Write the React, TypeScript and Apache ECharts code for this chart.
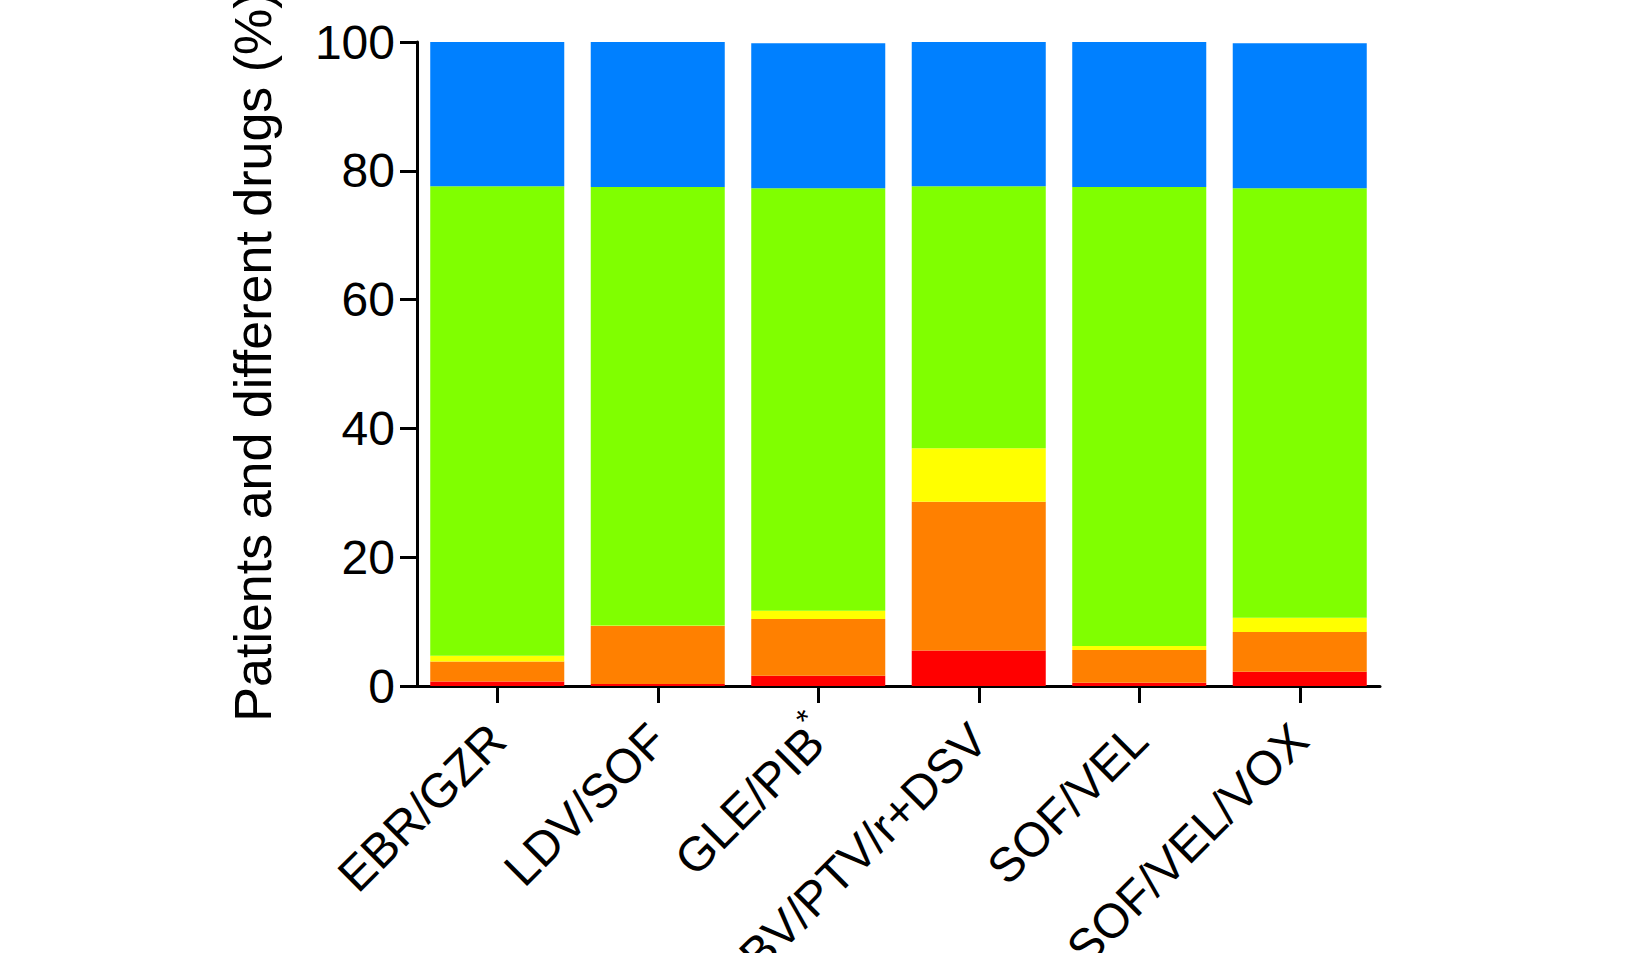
import React, { useEffect, useRef } from "react";
import * as echarts from "echarts";

const categories = ["EBR/GZR", "LDV/SOF", "GLE/PIB*", "OBV/PTV/r+DSV", "SOF/VEL", "SOF/VEL/VOX"];
const redValues = [0.7, 0.3, 1.6, 5.5, 0.5, 2.2];
const orangeValues = [3.1, 9.0, 8.8, 23.1, 5.1, 6.2];
const yellowValues = [0.9, 0.1, 1.3, 8.3, 0.6, 2.2];
const greenValues = [72.9, 68.1, 65.6, 40.7, 71.3, 66.7];
const blueValues = [22.4, 22.5, 22.5, 22.4, 22.5, 22.5];
const yTicks = [0, 20, 40, 60, 80, 100];

const seriesDefs = [
  { name: "red", data: redValues, color: "#FF0000" },
  { name: "orange", data: orangeValues, color: "#FF8000" },
  { name: "yellow", data: yellowValues, color: "#FFFF00" },
  { name: "green", data: greenValues, color: "#80FF00" },
  { name: "blue", data: blueValues, color: "#0080FF" },
];

const FONT = "'Liberation Sans', Arial, Helvetica, sans-serif";

export default function App() {
  const ref = useRef<HTMLDivElement>(null);
  useEffect(() => {
    if (!ref.current) return;
    const chart = echarts.init(ref.current, null, { renderer: "svg" });
    chart.setOption({
      animation: false,
      backgroundColor: "#ffffff",
      grid: {
        left: 417,
        right: 259,
        top: 42,
        bottom: 267,
        containLabel: false,
        outerBoundsMode: "none",
      },
      xAxis: {
        type: "category",
        data: categories,
        axisLine: { show: true, lineStyle: { color: "#000", width: 3 } },
        axisTick: { show: true, alignWithLabel: true, length: 17, lineStyle: { color: "#000", width: 3 } },
        axisLabel: {
          rotate: 45,
          margin: 46,
          interval: 0,
          color: "#000",
          fontFamily: FONT,
          fontSize: 48,
          formatter: (v: string) => (v.endsWith("*") ? v.slice(0, -1) + "{sup|*}" : v),
          rich: {
            sup: {
              fontSize: 32,
              width: 0,
              align: "left",
              verticalAlign: "top",
              padding: [0, 0, 36, 4],
              color: "#000",
              fontFamily: FONT,
            },
          },
        },
      },
      yAxis: {
        type: "value",
        min: 0,
        max: 100,
        interval: 20,
        name: "Patients and different drugs (%)",
        nameLocation: "middle",
        nameRotate: 90,
        nameGap: 138,
        nameTextStyle: { color: "#000", fontFamily: FONT, fontSize: 52, padding: [0, 0, 0, 15] },
        splitLine: { show: false },
        axisLine: { show: true, lineStyle: { color: "#000", width: 3 } },
        axisTick: { show: true, length: 17, lineStyle: { color: "#000", width: 3 } },
        axisLabel: {
          margin: 22,
          color: "#000",
          fontFamily: FONT,
          fontSize: 48,
          formatter: (v: number) => (yTicks.includes(v) ? String(v) : ""),
        },
      },
      series: seriesDefs.map((s) => ({
        name: s.name,
        type: "bar",
        stack: "total",
        barWidth: "83.5%",
        data: s.data,
        itemStyle: { color: s.color },
      })),
    });
    return () => chart.dispose();
  }, []);
  return (
    <div
      ref={ref}
      style={{ position: "absolute", left: 0, top: 0, width: 1639, height: 953 }}
    />
  );
}
